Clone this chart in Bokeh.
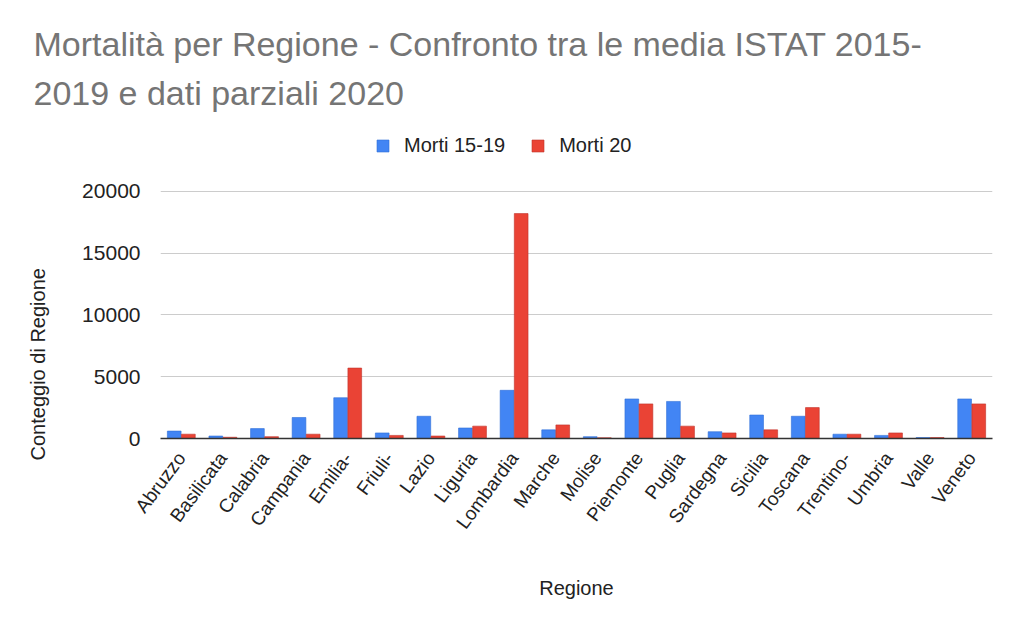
from bokeh.plotting import figure
from bokeh.models import ColumnDataSource, Legend, LegendItem, Range1d, FactorRange
from bokeh.transform import dodge
from bokeh.embed import file_html
from bokeh.resources import INLINE

regioni = ["Abruzzo", "Basilicata", "Calabria", "Campania", "Emilia-", "Friuli-", "Lazio",
           "Liguria", "Lombardia", "Marche", "Molise", "Piemonte", "Puglia", "Sardegna",
           "Sicilia", "Toscana", "Trentino-", "Umbria", "Valle", "Veneto"]
morti_15_19 = [600, 200, 800, 1700, 3300, 450, 1800, 850, 3900, 700, 150, 3200, 3000, 550,
               1900, 1800, 350, 250, 80, 3200]
morti_20 = [350, 100, 150, 350, 5700, 250, 200, 1000, 18200, 1100, 60, 2800, 1000, 450,
            700, 2500, 350, 450, 80, 2800]
y_ticks = [0, 5000, 10000, 15000, 20000]

src = ColumnDataSource(dict(r=regioni, a=morti_15_19, b=morti_20))

FONT = "Liberation Sans"
TXT = "#222222"
# the range runs past 20000 to leave room for the legend inside the frame
p = figure(width=1024, height=634, x_range=FactorRange(*regioni), y_range=Range1d(0, 24600),
           output_backend="svg", toolbar_location=None,
           title="Mortalità per Regione - Confronto tra le media ISTAT 2015-\n2019 e dati parziali 2020",
           min_border_left=160, min_border_right=32, min_border_top=120, min_border_bottom=196)
p.outline_line_color = None
p.title.text_font = FONT
p.title.text_font_size = "34px"
p.title.text_font_style = "normal"
p.title.text_color = "#757575"
p.title.text_line_height = 1.3
p.title.offset = -127
p.title.standoff = 45

b1 = p.vbar(x=dodge("r", -0.17, range=p.x_range), top="a", width=0.33, source=src,
            fill_color="#4285F4", line_color="#2f6fd6", line_width=0.6)
b2 = p.vbar(x=dodge("r", 0.17, range=p.x_range), top="b", width=0.33, source=src,
            fill_color="#EA4335", line_color="#c0322a", line_width=0.6)

p.yaxis.ticker = y_ticks
p.yaxis.axis_line_color = None
p.yaxis.major_tick_line_color = None
p.yaxis.minor_tick_line_color = None
p.yaxis.major_label_standoff = 14
p.yaxis.major_label_text_font = FONT
p.yaxis.major_label_text_font_size = "21px"
p.yaxis.major_label_text_color = TXT
p.yaxis.axis_label = "Conteggio di Regione" + "\u00a0" * 28
p.yaxis.axis_label_text_font = FONT
p.yaxis.axis_label_text_font_style = "normal"
p.yaxis.axis_label_text_font_size = "20px"
p.yaxis.axis_label_text_color = TXT
p.yaxis.axis_label_standoff = 30

p.xaxis.axis_line_color = "#333333"
p.xaxis.axis_line_width = 1.5
p.xaxis.major_tick_line_color = None
p.xaxis.major_label_standoff = 10
p.xaxis.major_label_orientation = 0.93
p.xaxis.major_label_text_font = FONT
p.xaxis.major_label_text_font_size = "19px"
p.xaxis.major_label_text_color = TXT
p.xaxis.axis_label = "Regione"
p.xaxis.axis_label_text_font = FONT
p.xaxis.axis_label_text_font_style = "normal"
p.xaxis.axis_label_text_font_size = "20px"
p.xaxis.axis_label_text_color = TXT
p.xaxis.axis_label_standoff = 35

p.xgrid.grid_line_color = None
p.ygrid.grid_line_color = "#cccccc"
p.ygrid.grid_line_width = 1

legend = Legend(items=[LegendItem(label="Morti 15-19", renderers=[b1]),
                       LegendItem(label="Morti 20", renderers=[b2])],
                orientation="horizontal", location=(215, 281),
                label_text_font=FONT, label_text_font_size="20px", label_text_color=TXT,
                glyph_width=15, glyph_height=15, label_standoff=14, spacing=25,
                border_line_color=None, background_fill_alpha=0, margin=0, padding=0)
p.add_layout(legend)

open("out.html", "w").write(file_html(p, INLINE))
